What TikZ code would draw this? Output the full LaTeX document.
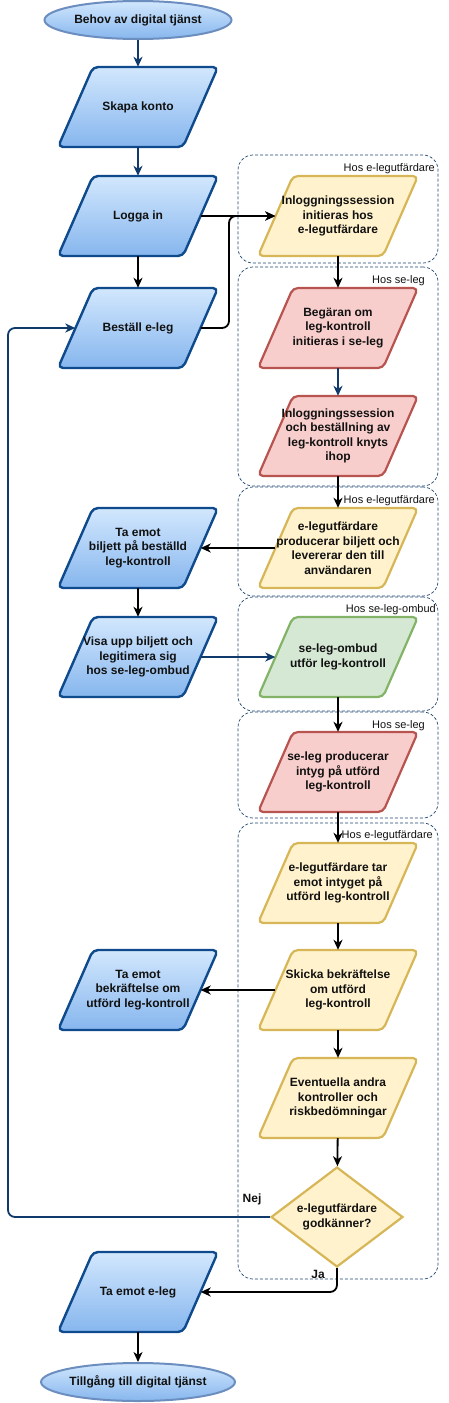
\documentclass[tikz,border=0pt]{standalone}
\usepackage{fontspec}
\setmainfont{Liberation Sans}
\usetikzlibrary{arrows.meta,shapes.geometric,calc}
\definecolor{bstroke}{HTML}{0E4A8C}
\definecolor{btop}{HTML}{D2E7FD}
\definecolor{bbot}{HTML}{86B6EE}
\definecolor{estroke}{HTML}{6C8EBF}
\definecolor{yfill}{HTML}{FFF2CC}
\definecolor{ystroke}{HTML}{D6B656}
\definecolor{rfill}{HTML}{F8CECC}
\definecolor{rstroke}{HTML}{B85450}
\definecolor{gfill}{HTML}{D5E8D4}
\definecolor{gstroke}{HTML}{82B366}
\definecolor{navy}{HTML}{0F3A6B}
\definecolor{grpc}{HTML}{1F4570}
\definecolor{txt}{HTML}{111111}
\tikzset{
  bluep/.style={draw=bstroke, top color=btop, bottom color=bbot, line width=2.4pt, rounded corners=5pt, line join=round},
  yellowp/.style={draw=ystroke, fill=yfill, line width=2.2pt, rounded corners=5pt, line join=round},
  redp/.style={draw=rstroke, fill=rfill, line width=2.2pt, rounded corners=5pt, line join=round},
  greenp/.style={draw=gstroke, fill=gfill, line width=2.2pt, rounded corners=5pt, line join=round},
  ptext/.style={minimum width=125pt, minimum height=80pt, inner sep=0pt, align=center,
    font=\bfseries\fontsize{12}{14.5}\selectfont, text=txt},
  term/.style={ellipse, draw=estroke, top color=btop, bottom color=bbot, line width=2pt,
    minimum width=187pt, minimum height=38pt, inner sep=0pt,
    font=\bfseries\fontsize{12}{14.5}\selectfont, text=txt},
  decide/.style={diamond, draw=ystroke, fill=yfill, line width=2.2pt, aspect=1.32,
    minimum width=132pt, minimum height=100pt, inner sep=0pt, align=center,
    font=\bfseries\fontsize{12}{14.5}\selectfont, text=txt},
  grp/.style={draw=grpc, dash pattern=on 3pt off 2pt, line width=0.7pt, rounded corners=15pt,
    minimum width=200pt, inner sep=0pt},
  glabel/.style={font=\fontsize{11}{13}\selectfont, text=txt, inner sep=0pt, anchor=east},
  elabel/.style={font=\bfseries\fontsize{12}{14.5}\selectfont, text=txt, inner sep=0pt},
  arr/.style={line width=1.8pt, -{Stealth[length=10pt,width=9pt,inset=3pt]}, rounded corners=7pt},
  barr/.style={arr, draw=navy},
}
\newcommand\pgram[5]{%
  \draw[#4, shift={(#2,#3)}] (-45,-40) -- (80,-40) -- (45,40) -- (-80,40) -- cycle;
  \node[ptext] (#1) at (#2,#3) {#5};
}
\begin{document}
\begin{tikzpicture}[x=1pt,y=-1pt]
\useasboundingbox (0,0) rectangle (448,1403);
% groups
\node[grp, minimum height=108pt] (g1) at (338,209) {};
\node[grp, minimum height=219pt] (g2) at (338,376.5) {};
\node[grp, minimum height=109pt] (g3) at (338,541.5) {};
\node[grp, minimum height=114pt] (g4) at (338,654) {};
\node[grp, minimum height=106pt] (g5) at (338,765) {};
\node[grp, minimum height=456pt] (g6) at (338,1051) {};
\node[glabel] (g1l) at (435,169) {Hos e-legutfärdare};
\node[glabel] (g2l) at (425,281) {Hos se-leg};
\node[glabel] (g3l) at (435,501) {Hos e-legutfärdare};
\node[glabel] (g4l) at (436,610) {Hos se-leg-ombud};
\node[glabel] (g5l) at (425,726) {Hos se-leg};
\node[glabel] (g6l) at (433,836) {Hos e-legutfärdare};
% terminals
\node[term] (start) at (138,20) {Behov av digital tjänst};
\node[term] (stop) at (138,1382) {Tillgång till digital tjänst};
% left column
\pgram{skapa}{138}{107}{bluep}{Skapa konto}
\pgram{logga}{138}{216}{bluep}{Logga in}
\pgram{best}{138}{328}{bluep}{Beställ e-leg}
\pgram{bilj}{138}{548}{bluep}{Ta emot\\biljett på beställd\\leg-kontroll}
\pgram{visa}{138}{657}{bluep}{Visa upp biljett och\\legitimera sig\\hos se-leg-ombud}
\pgram{bekr}{138}{990}{bluep}{Ta emot\\bekräftelse om\\utförd leg-kontroll}
\pgram{emot}{138}{1292}{bluep}{Ta emot e-leg}
% right column
\pgram{inl}{338}{216}{yellowp}{Inloggningssession\\initieras hos\\e-legutfärdare}
\pgram{beg}{338}{328}{redp}{Begäran om\\leg-kontroll\\initieras i se-leg}
\pgram{knyt}{338}{436}{redp}{Inloggningssession\\och beställning av\\leg-kontroll knyts\\ihop}
\pgram{prod}{338}{548}{yellowp}{e-legutfärdare\\producerar biljett och\\levererar den till\\användaren}
\pgram{ombud}{338}{657}{greenp}{se-leg-ombud\\utför leg-kontroll}
\pgram{intyg}{338}{772}{redp}{se-leg producerar\\intyg på utförd\\leg-kontroll}
\pgram{tar}{338}{883}{yellowp}{e-legutfärdare tar\\emot intyget på\\utförd leg-kontroll}
\pgram{skicka}{338}{990}{yellowp}{Skicka bekräftelse\\om utförd\\leg-kontroll}
\pgram{event}{338}{1098}{yellowp}{Eventuella andra\\kontroller och\\riskbedömningar}
\node[decide] (dia) at (337,1217) {e-legutfärdare\\godkänner?};
% helper coordinates
\coordinate (bend1) at (229,0);
\coordinate (loopx) at (8,0);
% connectors
\draw[barr] (start) -- (skapa);
\draw[barr] (skapa) -- (logga);
\draw[arr] (logga) -- (best);
\draw[arr] (logga.east) -- (inl.west);
\draw[arr] (best.east) -- (best.east -| bend1) -- (inl.west -| bend1) -- (inl.west);
\draw[arr] (inl) -- (beg);
\draw[barr] (beg) -- (knyt);
\draw[arr] (knyt) -- (prod);
\draw[arr] (prod.west) -- (bilj.east);
\draw[arr] (bilj) -- (visa);
\draw[barr] (visa.east) -- (ombud.west);
\draw[arr] (ombud) -- (intyg);
\draw[arr] (intyg) -- (tar);
\draw[arr] (tar) -- (skicka);
\draw[arr] (skicka.west) -- (bekr.east);
\draw[arr] (skicka) -- (event);
\draw[arr] (event) -- (dia);
\draw[barr] (dia.west) -- (dia.west -| loopx) -- (best.west -| loopx) -- (best.west);
\draw[arr] (dia.south) -- (dia.south |- emot.east) -- (emot.east);
\draw[arr] (emot) -- (stop);
% edge labels
\node[elabel] (nej) at (252,1199) {Nej};
\node[elabel] (ja) at (318,1274) {Ja};
\end{tikzpicture}
\end{document}
